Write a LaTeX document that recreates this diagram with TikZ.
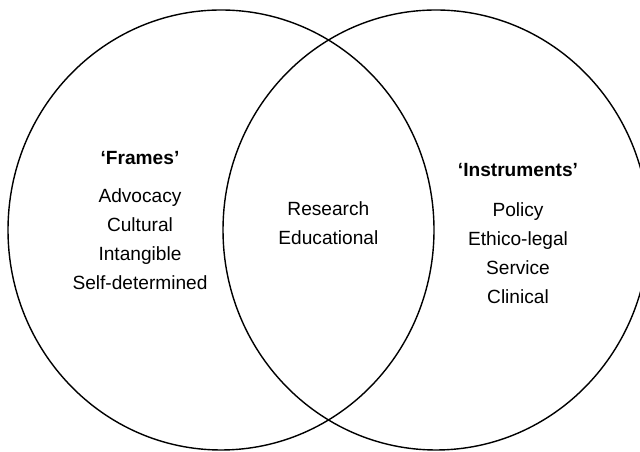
\documentclass[tikz,border=0pt]{standalone}
\usepackage{fontspec}
\setmainfont{Liberation Sans}
\usetikzlibrary{positioning}

\tikzset{
  settitle/.style={font=\fontsize{13.6}{20.6}\selectfont\bfseries, inner sep=0pt},
  setlist/.style={font=\fontsize{13.6}{20.6}\selectfont, align=center, inner sep=0pt}
}

\begin{document}
\begin{tikzpicture}

\useasboundingbox (0,0) rectangle (16,11.3);

\draw [line width=1pt](5.525,5.55) ellipse (5.325cm and 5.5cm);
\draw [line width=1pt](10.9,5.55) ellipse (5.325cm and 5.5cm);

\node [settitle] (frames) at (3.5,7.35) {‘Frames’};
\node [setlist] (framelist) at (3.5,5.325) {Advocacy\\Cultural\\Intangible\\Self-determined};

\node [setlist] (shared) at (8.21,5.71) {Research\\Educational};

\node [settitle] (instruments) at (12.95,7.05) {‘Instruments’};
\node [setlist] (instrlist) at (12.95,4.96) {Policy\\Ethico-legal\\Service\\Clinical};

\end{tikzpicture}
\end{document}
